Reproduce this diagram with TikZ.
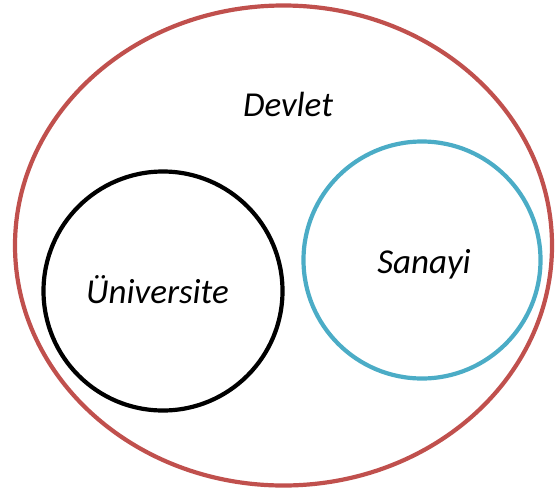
\documentclass[tikz,border=0pt]{standalone}
\usepackage{fontspec}
\setmainfont{Carlito}
\definecolor{devletred}{HTML}{C0504D}
\definecolor{sanayiblue}{HTML}{4BACC6}
\begin{document}
\begin{tikzpicture}[x=1pt,y=-1pt,
  ring/.style={line width=4.2pt},
  label/.style={font=\fontsize{35}{42}\selectfont\itshape, anchor=base, inner sep=0pt}]
  \useasboundingbox (0,0) rectangle (556,493);
  % outer set: the state
  \draw[ring, devletred] (283.5,245.5) ellipse [x radius=268.5, y radius=240];
  % inner sets
  \draw[ring, black] (163,291) circle [radius=119.5];
  \draw[ring, sanayiblue] (422,260) circle [radius=118.5];
  % labels
  \node[label] (devlet) at (288,116) {Devlet};
  \node[label] (uni) at (157.5,303.3) {Üniversite};
  \node[label] (sanayi) at (424,273) {Sanayi};
\end{tikzpicture}
\end{document}
